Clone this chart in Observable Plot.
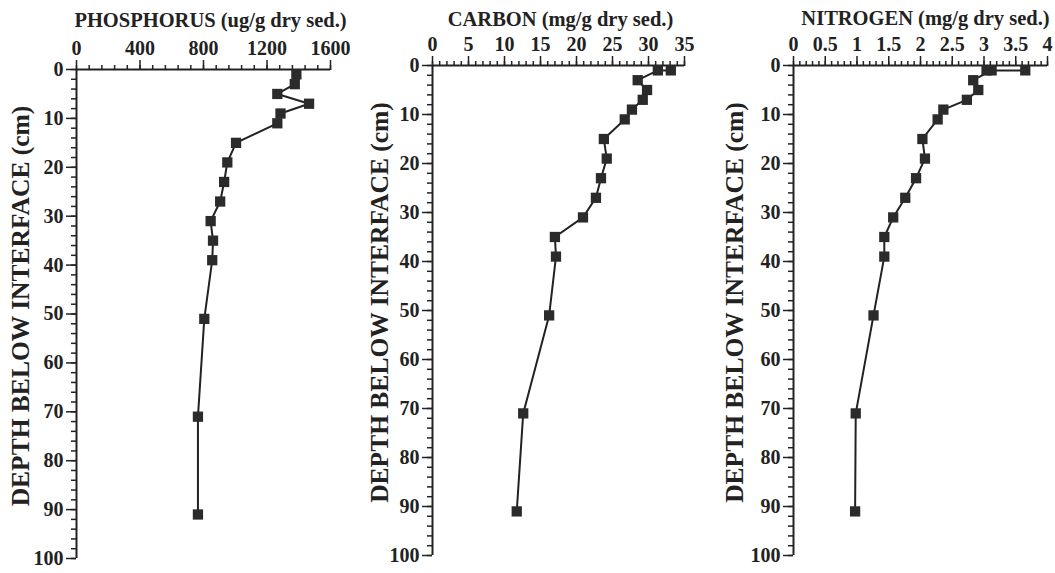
<!DOCTYPE html>
<html>
<head>
<meta charset="utf-8">
<script src="https://cdn.jsdelivr.net/npm/d3@7"></script>
<script src="https://cdn.jsdelivr.net/npm/@observablehq/plot@0.6"></script>
<style>
  html, body { margin: 0; padding: 0; background: #fff; }
  #wrap { position: relative; width: 1055px; height: 573px; overflow: hidden; background: #fff; }
  .panel { position: absolute; top: 0; }
</style>
</head>
<body>
<div id="wrap"></div>
<script>
// ---- data ----
const depthP = [1, 3, 5, 7, 9, 11, 15, 19, 23, 27, 31, 35, 39, 51, 71, 91];
const phosphorus = [1385, 1375, 1265, 1465, 1285, 1265, 1005, 950, 930, 905, 845, 860, 855, 805, 765, 765];

const depthC = [1, 1, 3, 5, 7, 9, 11, 15, 19, 23, 27, 31, 35, 39, 51, 71, 91];
const carbon = [33.1, 31.3, 28.5, 29.8, 29.2, 27.7, 26.7, 23.8, 24.2, 23.4, 22.7, 20.9, 17.0, 17.15, 16.2, 12.6, 11.7];

const depthN = [1, 1, 1, 3, 5, 7, 9, 11, 15, 19, 23, 27, 31, 35, 39, 51, 71, 91];
const nitrogen = [3.04, 3.65, 3.12, 2.83, 2.91, 2.73, 2.36, 2.27, 2.03, 2.07, 1.93, 1.76, 1.57, 1.43, 1.43, 1.26, 0.98, 0.97];

const titles = ["PHOSPHORUS (ug/g dry sed.)", "CARBON (mg/g dry sed.)", "NITROGEN (mg/g dry sed.)"];
const yLabel = "DEPTH BELOW INTERFACE (cm)";
const depthTicks = [0, 10, 20, 30, 40, 50, 60, 70, 80, 90, 100];
const depthMinor = d3.range(0, 101, 2);

const pTicks = [0, 400, 800, 1200, 1600];
const cTicks = [0, 5, 10, 15, 20, 25, 30, 35];
const nTicks = [0, 0.5, 1, 1.5, 2, 2.5, 3, 3.5, 4];
const pMinor = d3.range(0, 1601, 80);
const cMinor = d3.range(0, 36, 1);
const nMinor = d3.range(0, 41, 1).map(d => d / 10);

// ---- panel layout ----
const panels = [
  {title: titles[0], xs: phosphorus, ys: depthP, domain: [0, 1600], ticks: pTicks, minor: pMinor,
   left: 0, width: 340, ml: 76, mr: 10, mt: 69, mb: 15, tdx: 7, tdy: -49, ldx: -56, ldy: -8},
  {title: titles[1], xs: carbon, ys: depthC, domain: [0, 35], ticks: cTicks, minor: cMinor,
   left: 340, width: 360, ml: 92, mr: 16, mt: 65, mb: 18, tdx: 2, tdy: -46, ldx: -53, ldy: -8},
  {title: titles[2], xs: nitrogen, ys: depthN, domain: [0, 4], ticks: nTicks, minor: nMinor,
   left: 700, width: 355, ml: 93, mr: 8, mt: 65, mb: 18, tdx: 5, tdy: -47, ldx: -59, ldy: -8}
];

const ink = "#222";
const wrap = document.getElementById("wrap");

for (const p of panels) {
  const data = p.xs.map((v, i) => ({x: v, y: p.ys[i]}));
  const chart = Plot.plot({
    width: p.width,
    height: 573,
    marginLeft: p.ml,
    marginRight: p.mr,
    marginTop: p.mt,
    marginBottom: p.mb,
    style: {fontFamily: "'Liberation Serif', 'Times New Roman', serif", fontSize: "20px", fontWeight: "bold", color: ink, background: "transparent", overflow: "visible"},
    x: {domain: p.domain},
    y: {domain: [0, 100], reverse: true},
    marks: [
      Plot.axisX({anchor: "top", ticks: p.minor, tickSize: 5, text: null, label: null, strokeWidth: 1.5}),
      Plot.axisX({anchor: "top", ticks: p.ticks, tickSize: 10, tickPadding: 5, tickFormat: d => String(d), label: null, strokeWidth: 1.5}),
      Plot.axisY({anchor: "left", ticks: depthMinor, tickSize: 5, text: null, label: null, strokeWidth: 1.5}),
      Plot.axisY({anchor: "left", ticks: depthTicks, tickSize: 10, tickPadding: 3, tickFormat: d => String(d), label: null, strokeWidth: 1.5}),
      Plot.ruleX([0], {stroke: ink, strokeWidth: 2}),
      Plot.ruleY([0], {stroke: ink, strokeWidth: 2}),
      Plot.line(data, {x: "x", y: "y", stroke: ink, strokeWidth: 2}),
      Plot.dot(data, {x: "x", y: "y", symbol: "square", r: 5.8, fill: "#2b2b2b", stroke: "none"}),
      Plot.text([p.title], {frameAnchor: "top", dx: p.tdx, dy: p.tdy, lineAnchor: "middle", fontSize: 20.5, fontWeight: "bold", fill: ink}),
      Plot.text([yLabel], {frameAnchor: "left", rotate: -90, dx: p.ldx, dy: p.ldy, textAnchor: "middle", lineAnchor: "middle", fontSize: 25.5, fontWeight: "bold", fill: ink})
    ]
  });
  const div = document.createElement("div");
  div.className = "panel";
  div.style.left = p.left + "px";
  div.appendChild(chart);
  wrap.appendChild(div);
}
</script>
</body>
</html>
